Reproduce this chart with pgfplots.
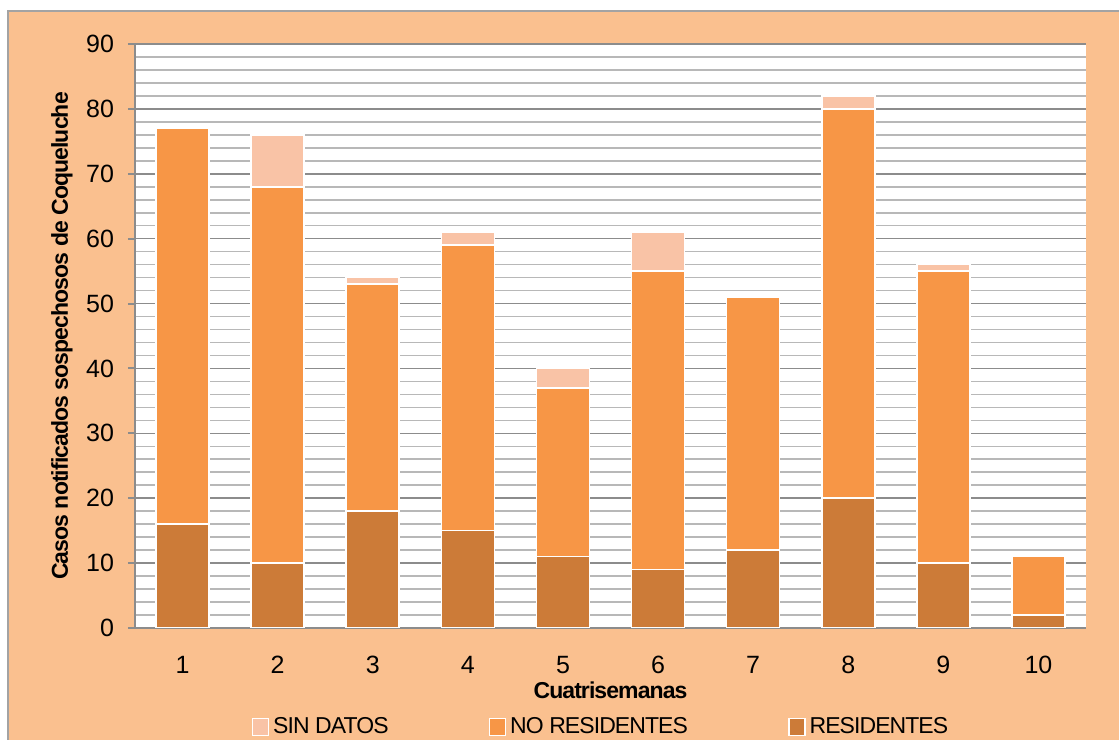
\documentclass[border=0pt]{standalone}
\usepackage{pgfplots}
\pgfplotsset{compat=1.18}
\usepackage{fontspec}
\setmainfont{Liberation Sans}
\newfontfamily\condfont[LetterSpace=-4]{Liberation Sans}
\definecolor{bg}{HTML}{FAC08F}
\definecolor{cres}{HTML}{CC7B38}
\definecolor{cnr}{HTML}{F79646}
\definecolor{csd}{HTML}{F9C3A6}
\definecolor{gmaj}{HTML}{8C8C8C}
\definecolor{gmin}{HTML}{B8B8B8}
\begin{document}
\begin{tikzpicture}[x=0.5pt,y=0.5pt]
\path[use as bounding box] (0,0) rectangle (1119,739);
\fill[bg] (8,-10) rectangle (1130,728);
\draw[gmaj!80, line width=1pt] (8,-10) -- (8,728) -- (1130,728);
\begin{axis}[
  at={(67.5pt,55.5pt)}, anchor=south west,
  scale only axis, width=475.5pt, height=292pt,
  ybar stacked, bar width=26.5pt,
  xmin=0.5, xmax=10.5, ymin=0, ymax=90,
  xtick={1,...,10}, ytick={0,10,...,90},
  minor y tick num=4,
  ymajorgrids, yminorgrids,
  major grid style={draw=gmaj, line width=0.8pt},
  minor grid style={draw=gmin, line width=0.8pt},
  axis background/.style={fill=white},
  axis x line*=bottom, axis y line*=left,
  axis line style={-, draw=gmaj, line width=1pt},
  x tick style={draw=none},
  y tick style={draw=gmaj, line width=1pt},
  tick align=outside, major tick length=3.5pt, minor tick length=0pt,
  /pgf/number format/assume math mode=true,
  ticklabel style={font=\fontsize{12.5}{14}\selectfont},
  xticklabel style={yshift=-7pt},
  yticklabel style={xshift=-3.5pt},
  xlabel={Cuatrisemanas},
  ylabel={Casos notificados sospechosos de Coqueluche},
  label style={font=\condfont\bfseries\fontsize{11.5}{13}\selectfont},
  xlabel style={at={(axis description cs:0.5,-0.106)}, anchor=center},
  ylabel style={at={(axis description cs:-0.0768,0.5)}, anchor=center, rotate=0},
  legend columns=3, reverse legend,
  legend style={at={(axis description cs:0.491,-0.1695)}, anchor=center,
    draw=none, fill=none, font=\condfont\fontsize{11.5}{13}\selectfont,
    /tikz/every even column/.append style={column sep=48pt},
    inner sep=0pt},
  legend image code/.code={\fill[#1] (0pt,-4.2pt) rectangle (8pt,4.2pt);},
  every axis plot/.append style={draw=white, line width=0.8pt},
]
\addplot[fill=cres] coordinates {(1,16) (2,10) (3,18) (4,15) (5,11) (6,9) (7,12) (8,20) (9,10) (10,2)};
\addplot[fill=cnr] coordinates {(1,61) (2,58) (3,35) (4,44) (5,26) (6,46) (7,39) (8,60) (9,45) (10,9)};
\addplot[fill=csd] coordinates {(1,0) (2,8) (3,1) (4,2) (5,3) (6,6) (7,0) (8,2) (9,1) (10,0)};
\legend{RESIDENTES, NO RESIDENTES, SIN DATOS}
\end{axis}
\end{tikzpicture}
\end{document}
